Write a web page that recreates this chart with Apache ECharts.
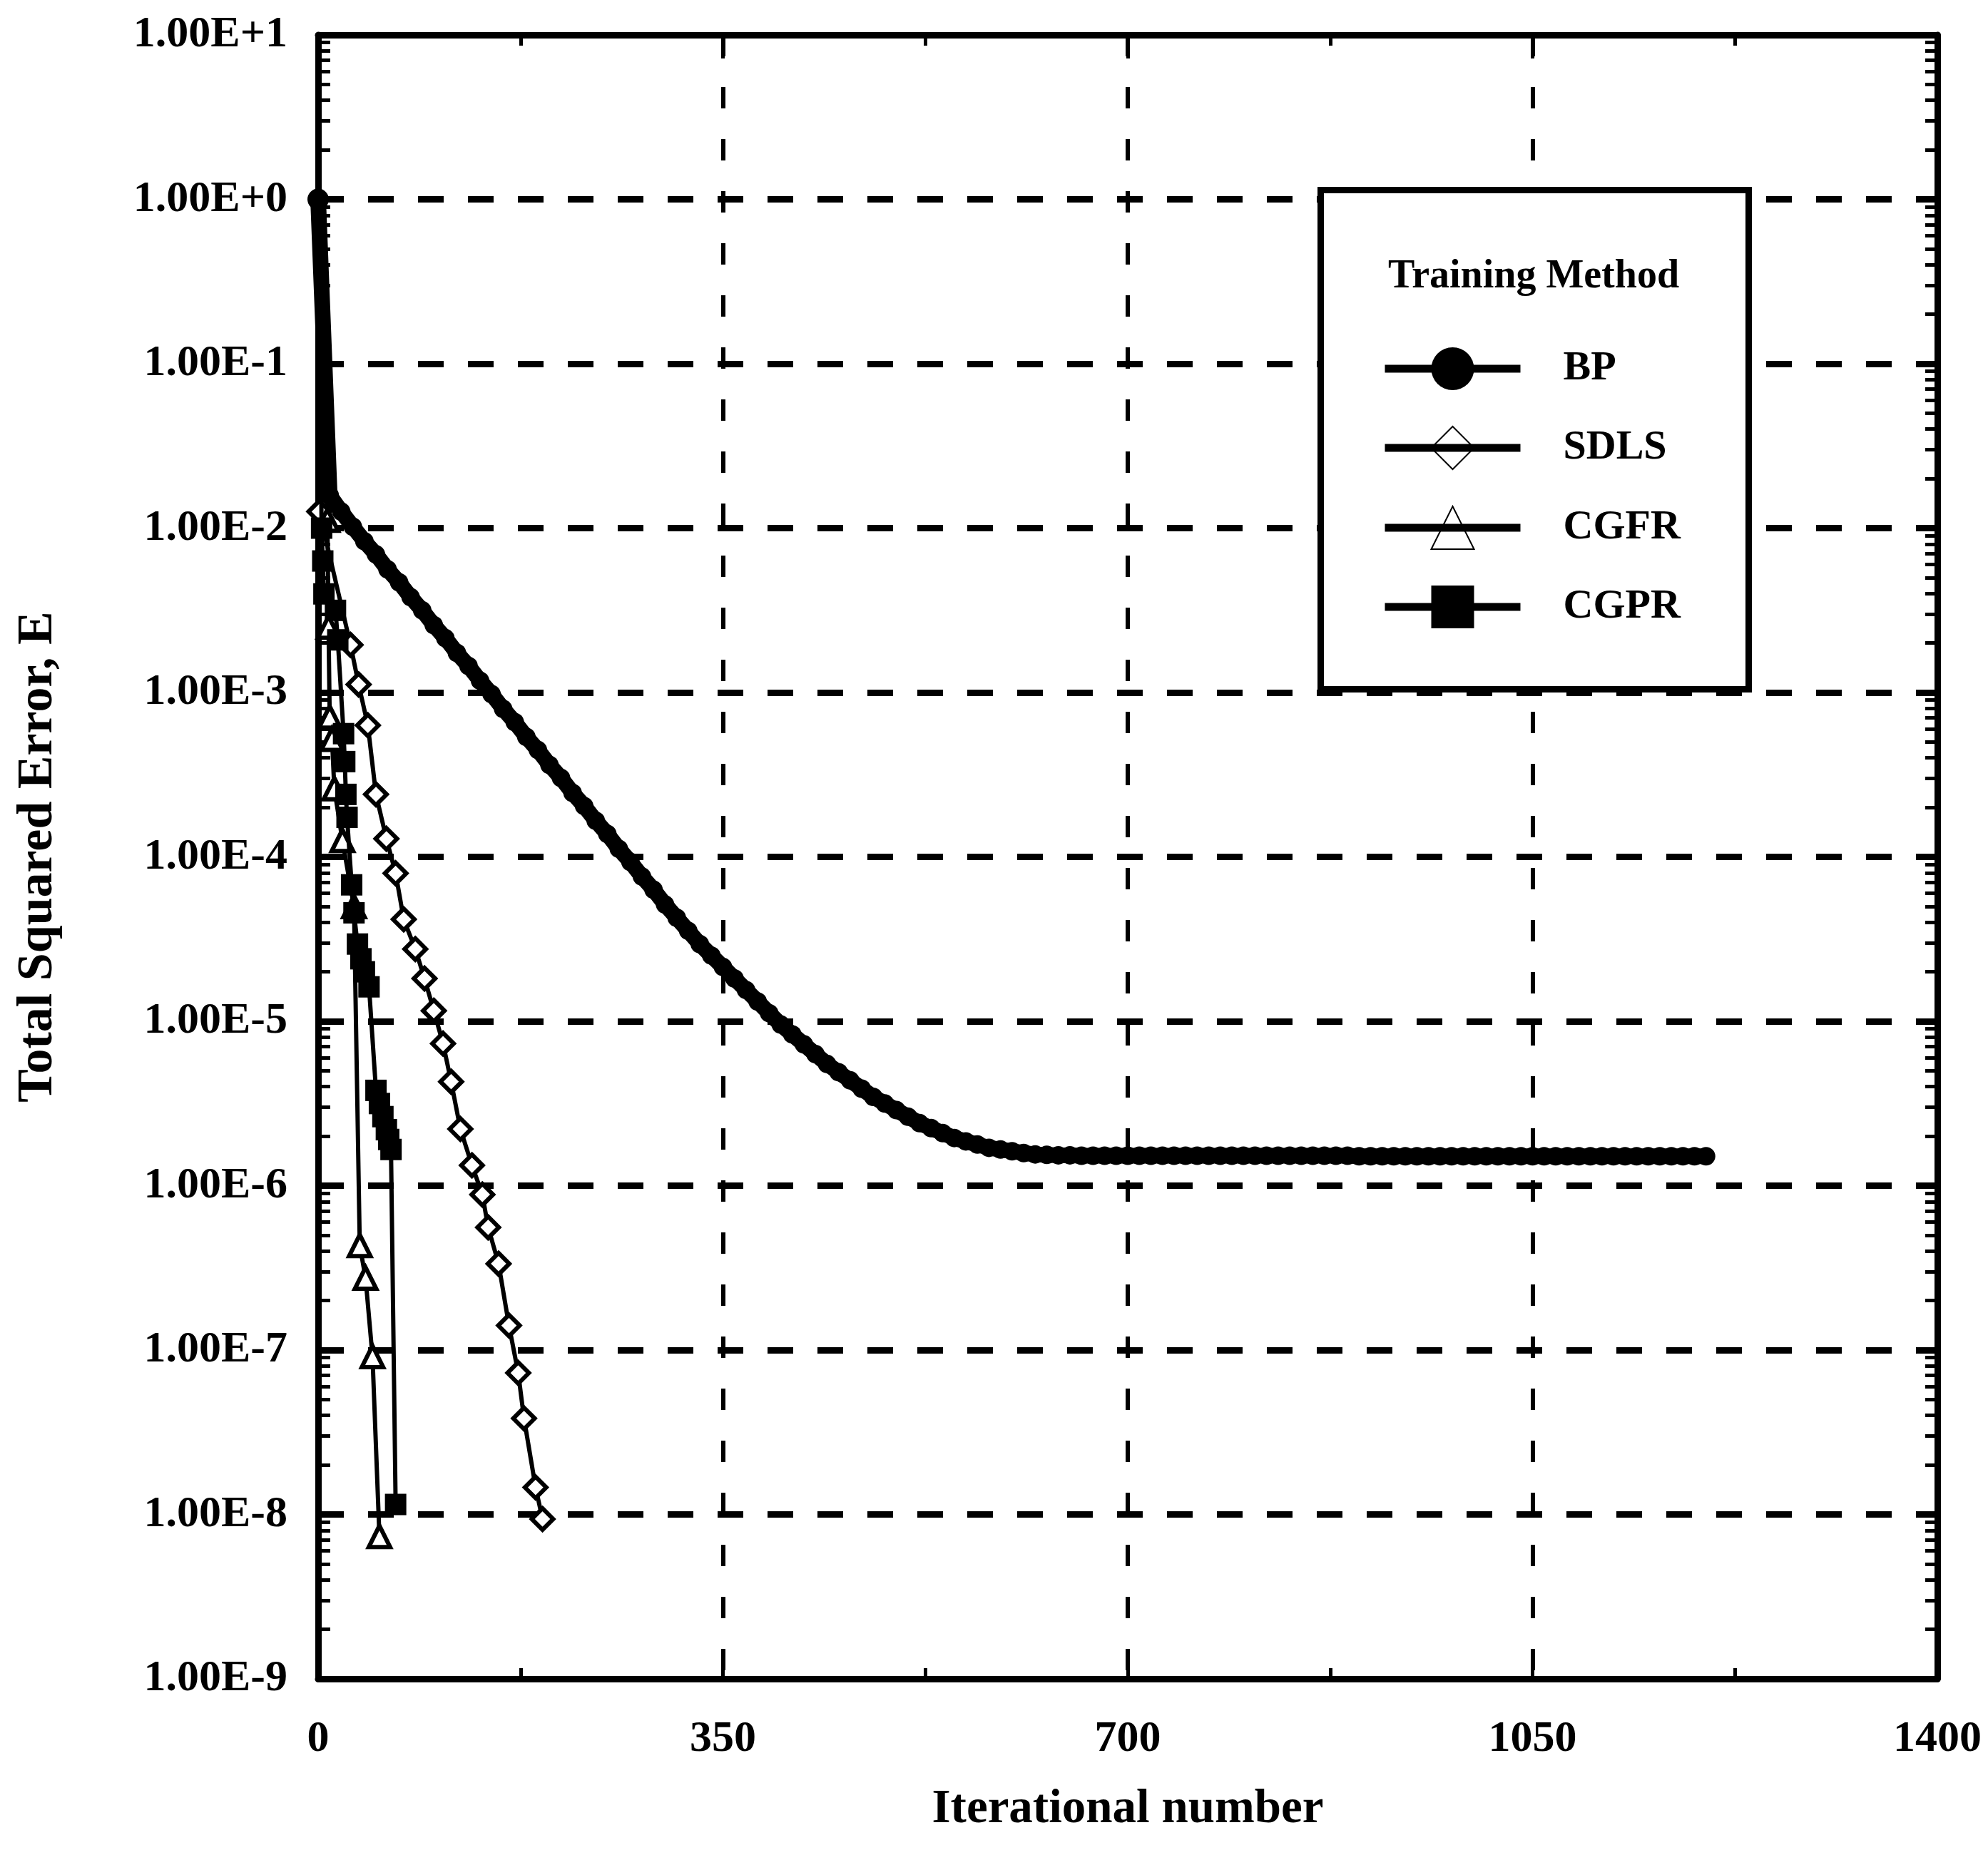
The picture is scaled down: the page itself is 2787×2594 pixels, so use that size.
<!DOCTYPE html>
<html>
<head>
<meta charset="utf-8">
<script src="https://cdn.jsdelivr.net/npm/echarts@6/dist/echarts.min.js"></script>
<style>
  html, body { margin: 0; padding: 0; background: #ffffff; }
  #chart { width: 2787px; height: 2594px; }
</style>
</head>
<body>
<div id="chart"></div>
<script>
// Convergence of total squared error for four training methods (log scale).

// ---- x axis ----
const xTickValues = [0, 350, 700, 1050, 1400];
const xTickLabels = ['0', '350', '700', '1050', '1400'];

// ---- y axis (decades) ----
const yTickValues = [1e-9, 1e-8, 1e-7, 1e-6, 1e-5, 1e-4, 1e-3, 1e-2, 1e-1, 1e0, 1e1];
const yTickLabels = ['1.00E-9', '1.00E-8', '1.00E-7', '1.00E-6', '1.00E-5', '1.00E-4',
                     '1.00E-3', '1.00E-2', '1.00E-1', '1.00E+0', '1.00E+1'];
const minorMultipliers = [2, 3, 4, 5, 6, 7, 8, 9];

// ---- series ----
const seriesNames = ['BP', 'SDLS', 'CGFR', 'CGPR'];

const bpIter = [
  0, 10, 20, 30, 40, 50, 60, 70, 80, 90,
  100, 110, 120, 130, 140, 150, 160, 170, 180, 190,
  200, 210, 220, 230, 240, 250, 260, 270, 280, 290,
  300, 310, 320, 330, 340, 350, 360, 370, 380, 390,
  400, 410, 420, 430, 440, 450, 460, 470, 480, 490,
  500, 510, 520, 530, 540, 550, 560, 570, 580, 590,
  600, 610, 620, 630, 640, 650, 660, 670, 680, 690,
  700, 710, 720, 730, 740, 750, 760, 770, 780, 790,
  800, 810, 820, 830, 840, 850, 860, 870, 880, 890,
  900, 910, 920, 930, 940, 950, 960, 970, 980, 990,
  1000, 1010, 1020, 1030, 1040, 1050, 1060, 1070, 1080, 1090,
  1100, 1110, 1120, 1130, 1140, 1150, 1160, 1170, 1180, 1190,
  1200
];
const bpError = [
  1.0, 1.58e-2, 1.26e-2, 1.02e-2, 8.32e-3, 6.92e-3, 5.62e-3, 4.68e-3, 3.80e-3, 3.16e-3,
  2.57e-3, 2.14e-3, 1.74e-3, 1.45e-3, 1.18e-3, 9.77e-4, 7.94e-4, 6.61e-4, 5.37e-4, 4.47e-4,
  3.63e-4, 3.02e-4, 2.45e-4, 2.04e-4, 1.66e-4, 1.38e-4, 1.12e-4, 9.33e-5, 7.59e-5, 6.31e-5,
  5.13e-5, 4.27e-5, 3.55e-5, 2.95e-5, 2.51e-5, 2.14e-5, 1.82e-5, 1.55e-5, 1.32e-5, 1.12e-5,
  9.55e-6, 8.32e-6, 7.24e-6, 6.31e-6, 5.50e-6, 4.90e-6, 4.37e-6, 3.89e-6, 3.47e-6, 3.16e-6,
  2.88e-6, 2.63e-6, 2.40e-6, 2.24e-6, 2.09e-6, 1.95e-6, 1.86e-6, 1.78e-6, 1.70e-6, 1.66e-6,
  1.62e-6, 1.58e-6, 1.55e-6, 1.54e-6, 1.53e-6, 1.53e-6, 1.52e-6, 1.52e-6, 1.52e-6, 1.52e-6,
  1.52e-6, 1.52e-6, 1.52e-6, 1.52e-6, 1.52e-6, 1.52e-6, 1.52e-6, 1.52e-6, 1.52e-6, 1.52e-6,
  1.52e-6, 1.52e-6, 1.52e-6, 1.52e-6, 1.52e-6, 1.52e-6, 1.52e-6, 1.52e-6, 1.52e-6, 1.52e-6,
  1.51e-6, 1.51e-6, 1.51e-6, 1.51e-6, 1.51e-6, 1.51e-6, 1.51e-6, 1.51e-6, 1.51e-6, 1.51e-6,
  1.51e-6, 1.51e-6, 1.51e-6, 1.51e-6, 1.51e-6, 1.51e-6, 1.51e-6, 1.51e-6, 1.51e-6, 1.51e-6,
  1.51e-6, 1.51e-6, 1.51e-6, 1.51e-6, 1.51e-6, 1.51e-6, 1.51e-6, 1.51e-6, 1.51e-6, 1.51e-6,
  1.51e-6
];

const sdlsIter = [0, 1, 28, 35, 43, 50, 59, 67, 74, 84, 92, 100, 108, 115, 123, 133, 142, 147, 156, 165, 173, 178, 188, 194];
const sdlsError = [1.0, 1.26e-2, 1.95e-3, 1.12e-3, 6.31e-4, 2.40e-4, 1.29e-4, 7.94e-5, 4.17e-5, 2.75e-5,
                   1.82e-5, 1.16e-5, 7.31e-6, 4.29e-6, 2.21e-6, 1.33e-6, 8.83e-7, 5.58e-7, 3.35e-7, 1.41e-7,
                   7.26e-8, 3.84e-8, 1.46e-8, 9.38e-9];

const cgfrIter = [0, 8, 9, 10, 12, 14, 21, 31, 36, 41, 47, 53];
const cgfrError = [1.0, 1.12e-2, 2.50e-3, 7.10e-4, 5.20e-4, 2.60e-4, 1.26e-4, 5.00e-5, 4.33e-7, 2.74e-7, 9.14e-8, 7.35e-9];

const cgprIter = [0, 3, 4, 5, 15, 17, 22, 23, 24, 25, 29, 31, 34, 37, 40, 44, 50, 53, 56, 59, 61, 63, 67];
const cgprError = [1.0, 1.0e-2, 6.31e-3, 3.98e-3, 3.16e-3, 2.09e-3, 5.62e-4, 3.80e-4, 2.40e-4, 1.74e-4,
                   6.76e-5, 4.57e-5, 2.95e-5, 2.40e-5, 2.00e-5, 1.62e-5, 3.80e-6, 3.16e-6, 2.63e-6, 2.19e-6,
                   1.91e-6, 1.66e-6, 1.15e-8];

// ---- helpers ----
const FONT = '"Liberation Serif", "Times New Roman", serif';

// minor ticks of the log axis: 2..9 within each decade
const yMinorTicks = [];
yTickValues.slice(0, -1).forEach(function (d) {
  minorMultipliers.forEach(function (m) { yMinorTicks.push(m * d); });
});

function yLabel(v) {
  for (let i = 0; i < yTickValues.length; i++) {
    if (Math.abs(v / yTickValues[i] - 1) < 1e-6) return yTickLabels[i];
  }
  return '';
}
function xLabel(v) {
  const i = xTickValues.indexOf(v);
  return i >= 0 ? xTickLabels[i] : '';
}

// pairs; the shared starting point carries no marker except on BP
function pairs(iter, err, hideFirst, firstSize) {
  return iter.map(function (x, i) {
    const item = { value: [x, err[i]] };
    if (i === 0 && hideFirst) item.symbol = 'none';
    if (i === 0 && firstSize) item.symbolSize = firstSize;
    return item;
  });
}

const axisText = { fontFamily: FONT, fontWeight: 'bold', fontSize: 62, color: '#000' };
const frameLine = { show: true, onZero: false, lineStyle: { color: '#000', width: 9 } };
const tickStyle = { color: '#000', width: 5 };

function logAxis(extra) {
  return Object.assign({
    type: 'log', logBase: 10, min: 1e-9, max: 10, interval: 1,
    minorTick: { show: false },
    axisLabel: { show: false },
    splitLine: { show: false }
  }, extra);
}

const chart = echarts.init(document.getElementById('chart'));

chart.setOption({
  animation: false,
  backgroundColor: '#ffffff',
  grid: { left: 446, top: 49, right: 71, bottom: 240, containLabel: false },
  xAxis: [
    {
      type: 'value', min: 0, max: 1400, interval: 350, position: 'bottom',
      name: 'Iterational number', nameLocation: 'middle', nameGap: 150,
      nameTextStyle: { fontFamily: FONT, fontWeight: 'bold', fontSize: 67, color: '#000' },
      axisLine: frameLine,
      axisTick: { show: true, inside: true, length: 33, lineStyle: tickStyle },
      minorTick: { show: true, splitNumber: 2, length: 15, lineStyle: tickStyle },
      axisLabel: Object.assign({ margin: 54, formatter: xLabel }, axisText),
      splitLine: { show: true, lineStyle: { color: '#000', width: 6, type: [30, 43] } }
    },
    {
      type: 'value', min: 0, max: 1400, interval: 350, position: 'top',
      axisLine: frameLine,
      axisTick: { show: true, inside: true, length: 33, lineStyle: tickStyle },
      minorTick: { show: true, splitNumber: 2, length: 15, lineStyle: tickStyle },
      axisLabel: { show: false },
      splitLine: { show: false }
    }
  ],
  yAxis: [
    // decades: labels and dashed grid
    logAxis({
      position: 'left',
      name: 'Total Squared Error, E', nameLocation: 'middle', nameRotate: 90, nameGap: 357,
      nameTextStyle: { fontFamily: FONT, fontWeight: 'bold', fontSize: 70, color: '#000' },
      axisLine: frameLine,
      axisTick: { show: true, inside: true, length: 30, lineStyle: tickStyle },
      axisLabel: Object.assign({ show: true, margin: 43, formatter: yLabel }, axisText),
      splitLine: { show: true, lineStyle: { color: '#000', width: 9, type: [36, 34] } }
    }),
    // minor ticks along the left edge
    logAxis({
      position: 'left',
      axisLine: { show: false },
      axisTick: { show: true, inside: true, length: 17, customValues: yMinorTicks, lineStyle: tickStyle }
    }),
    // right edge of the frame with minor ticks
    logAxis({
      position: 'right',
      axisLine: frameLine,
      axisTick: { show: true, inside: true, length: 17, customValues: yMinorTicks, lineStyle: tickStyle }
    })
  ],
  legend: {
    orient: 'vertical', left: 1931, top: 482,
    itemWidth: 190, itemHeight: 75, itemGap: 50,
    z: 20,
    data: [
      { name: 'BP' },
      { name: 'SDLS', itemStyle: { color: 'rgba(0,0,0,0)' } },
      { name: 'CGFR', itemStyle: { color: 'rgba(0,0,0,0)' } },
      { name: 'CGPR' }
    ],
    lineStyle: { width: 11 },
    textStyle: { fontFamily: FONT, fontWeight: 'bold', fontSize: 58, color: '#000', padding: [0, 0, 0, 55] }
  },
  graphic: [
    {
      type: 'rect', z: 10,
      shape: { x: 1851.5, y: 266.5, width: 600, height: 700 },
      style: { fill: '#ffffff', stroke: '#000', lineWidth: 9 }
    },
    {
      type: 'text', z: 21, x: 2150, y: 389,
      style: { text: 'Training Method', fontFamily: FONT, fontWeight: 'bold', fontSize: 56,
               fill: '#000', align: 'center', verticalAlign: 'middle' }
    }
  ],
  series: [
    {
      name: seriesNames[0], type: 'line', z: 2,
      data: pairs(bpIter, bpError, false, 30),
      symbol: 'circle', symbolSize: 26, showAllSymbol: true,
      itemStyle: { color: '#000' },
      lineStyle: { color: '#000', width: 22 }
    },
    {
      name: seriesNames[1], type: 'line', z: 3,
      data: pairs(sdlsIter, sdlsError, true),
      symbol: 'diamond', symbolSize: 30, showAllSymbol: true,
      itemStyle: { color: '#fff', borderColor: '#000', borderWidth: 6 },
      lineStyle: { color: '#000', width: 6 }
    },
    {
      name: seriesNames[2], type: 'line', z: 3,
      data: pairs(cgfrIter, cgfrError, true),
      symbol: 'triangle', symbolSize: 30, showAllSymbol: true,
      itemStyle: { color: '#fff', borderColor: '#000', borderWidth: 6 },
      lineStyle: { color: '#000', width: 6 }
    },
    {
      name: seriesNames[3], type: 'line', z: 4,
      data: pairs(cgprIter, cgprError, true),
      symbol: 'rect', symbolSize: 30, showAllSymbol: true,
      itemStyle: { color: '#000' },
      lineStyle: { color: '#000', width: 6 }
    }
  ]
});
</script>
</body>
</html>
